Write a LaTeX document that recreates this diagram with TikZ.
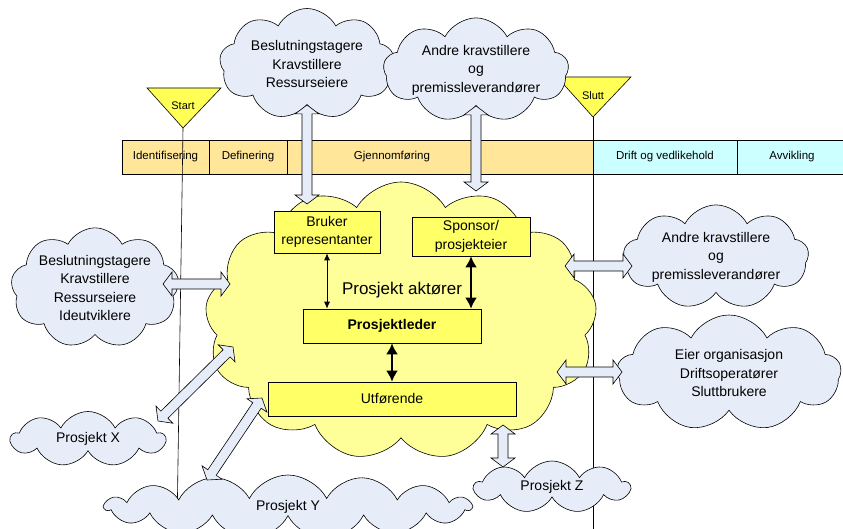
\documentclass[tikz,border=0pt]{standalone}
\usepackage{fontspec}
\setmainfont{Liberation Sans}
\usepackage{xcolor}
\usepackage{tikz}
\usetikzlibrary{arrows.meta,positioning,shapes.symbols,calc}

\definecolor{puffblue}{RGB}{231,237,248}
\definecolor{coreyellow}{RGB}{255,255,153}
\definecolor{boxyellow}{RGB}{255,255,102}
\definecolor{gateyellow}{RGB}{255,255,85}
\definecolor{planorange}{RGB}{255,230,153}
\definecolor{runcyan}{RGB}{204,255,255}

% hollow double-headed block arrow between two points
\newcommand\dualarrow[2]{%
  \draw[dual] (#1)
    -- ($(#1)!9pt!(#2)!12pt!90:(#2)$)
    -- ($(#1)!9pt!(#2)!5pt!90:(#2)$)
    -- ($(#2)!9pt!(#1)!5pt!-90:(#1)$)
    -- ($(#2)!9pt!(#1)!12pt!-90:(#1)$)
    -- (#2)
    -- ($(#2)!9pt!(#1)!12pt!90:(#1)$)
    -- ($(#2)!9pt!(#1)!5pt!90:(#1)$)
    -- ($(#1)!9pt!(#2)!5pt!-90:(#2)$)
    -- ($(#1)!9pt!(#2)!12pt!-90:(#2)$)
    -- cycle;}

\begin{document}
\begin{tikzpicture}[
    x=1pt, y=-1pt,
    font=\fontsize{14}{18.5}\selectfont,
    phase/.style={draw, minimum height=34pt, inner sep=0pt, outer sep=0pt,
                  font=\fontsize{11.5}{13}\selectfont},
    gate/.style={draw, fill=gateyellow, line width=0.6pt},
    gatetext/.style={font=\fontsize{11}{12}\selectfont, inner sep=0pt},
    milestone/.style={draw, line width=0.6pt},
    puff/.style={cloud, cloud puffs=9, cloud puff arc=125, cloud ignores aspect,
                 draw, fill=puffblue, line width=0.6pt, align=center, inner sep=0pt},
    core/.style={cloud, cloud puffs=13, cloud puff arc=120, cloud ignores aspect,
                 draw, fill=coreyellow, line width=0.6pt},
    actor/.style={draw, fill=boxyellow, align=center, inner sep=2pt, line width=0.6pt},
    dual/.style={draw, fill=puffblue, line width=0.6pt, line join=miter},
    link/.style={{Latex[length=7pt,width=6pt]}-{Latex[length=7pt,width=6pt]}, line width=0.8pt},
    heavy/.style={{Latex[length=11pt,width=12pt]}-{Latex[length=11pt,width=12pt]}, line width=2.6pt}
]
\useasboundingbox (0,0) rectangle (843,529);

% phases
\node[phase, fill=planorange, minimum width=87pt, anchor=north west] (ident) at (122,140) {Identifisering};
\node[phase, fill=planorange, minimum width=78pt, right=0pt of ident] (def) {Definering};
\node[phase, fill=planorange, minimum width=306pt, right=0pt of def] (gjen) {};
\node[phase, draw=none, minimum height=0pt] (gjenTxt) at (392,157) {Gjennomføring};
\node[phase, fill=runcyan, minimum width=144pt, right=0pt of gjen] (drift) {Drift og vedlikehold};
\node[phase, fill=runcyan, minimum width=110pt, right=0pt of drift] (avv) {Avvikling};

% milestones
\coordinate (startTip) at (183,128);
\coordinate (startFoot) at (177,529);
\coordinate (sluttTip) at (593,117);
\coordinate (sluttFoot) at (593,529);
\draw[milestone] (startTip) -- (startFoot);
\draw[milestone] (sluttTip) -- (sluttFoot);
\draw[gate] (147,88) -- (221,88) -- (startTip) -- cycle;
\draw[gate] (557,77) -- (631,77) -- (sluttTip) -- cycle;
\node[gatetext] (startLbl) at (183,106) {Start};
\node[gatetext] (sluttLbl) at (593,96) {Slutt};

% clouds
\node[core, minimum width=392pt, minimum height=278pt] (core) at (401,321) {};
\node[puff, minimum width=175pt, minimum height=111pt] (besl) at (307,64)
    {Beslutningstagere\\Kravstillere\\Ressurseiere};
\node[puff, minimum width=170pt, minimum height=99pt] (andreTop) at (476,70)
    {Andre kravstillere\\og\\premissleverandører};
\node[puff, minimum width=156pt, minimum height=116pt] (beslLeft) at (95,288)
    {Beslutningstagere\\Kravstillere\\Ressurseiere\\Ideutviklere};
\node[puff, minimum width=177pt, minimum height=93pt] (andreRight) at (716,257)
    {Andre kravstillere\\og\\premissleverandører};
\node[puff, minimum width=224pt, minimum height=116pt] (eier) at (729,373)
    {Eier organisasjon\\Driftsoperatører\\Sluttbrukere};
\node[puff, minimum width=154pt, minimum height=55pt] (projX) at (88,439) {Prosjekt X};
\node[puff, minimum width=366pt, minimum height=64pt, cloud puffs=15] (projY) at (288,507) {Prosjekt Y};
\node[puff, minimum width=155pt, minimum height=52pt] (projZ) at (552,487) {Prosjekt Z};

% ends of the block arrows
\coordinate (inTopA)   at ($(core)+(-94,-117)$);
\coordinate (inTopB)   at ($(core)+(75,-130)$);
\coordinate (inLeft)   at ($(core)+(-171,-37)$);
\coordinate (outLeft)  at ($(beslLeft)+(68,-4)$);
\coordinate (inRightA) at ($(core)+(164,-55)$);
\coordinate (outRightA) at ($(andreRight)+(-84,9)$);
\coordinate (inRightB) at ($(core)+(156,51)$);
\coordinate (outRightB) at ($(eier)+(-107,-1)$);
\coordinate (inX)  at ($(core)+(-168,26)$);
\coordinate (outX) at ($(projX)+(70,-18)$);
\coordinate (inY)  at ($(core)+(-139,77)$);
\coordinate (outY) at ($(projY)+(-81,-27)$);
\coordinate (inZ)  at ($(core)+(102,104)$);
\coordinate (outZ) at ($(projZ)+(-49,-20)$);

\dualarrow{besl.south}{inTopA}
\dualarrow{andreTop.south}{inTopB}
\dualarrow{outLeft}{inLeft}
\dualarrow{inRightA}{outRightA}
\dualarrow{inRightB}{outRightB}
\dualarrow{inX}{outX}
\dualarrow{inY}{outY}
\dualarrow{inZ}{outZ}

% project actors
\node[actor, minimum width=106pt, minimum height=42pt] (bruker) at (327,232) {Bruker\\representanter};
\node[actor, minimum width=118pt, minimum height=39pt] (sponsor) at (471,236.5) {Sponsor/\\prosjekteier};
\node[actor, minimum width=178pt, minimum height=34pt, font=\fontsize{14}{18.5}\selectfont\bfseries] (leder) at (392,326) {Prosjektleder};
\node[actor, minimum width=248pt, minimum height=34pt] (utf) at (392,399) {Utførende};
\node[font=\fontsize{17}{20}\selectfont, inner sep=0pt] (aktorer) at (402,290) {Prosjekt aktører};

\draw[link]  (bruker.south) -- (bruker.south |- leder.north);
\draw[heavy] (sponsor.south) -- (sponsor.south |- leder.north);
\draw[heavy] (leder.south) -- (utf.north);
\end{tikzpicture}
\end{document}
